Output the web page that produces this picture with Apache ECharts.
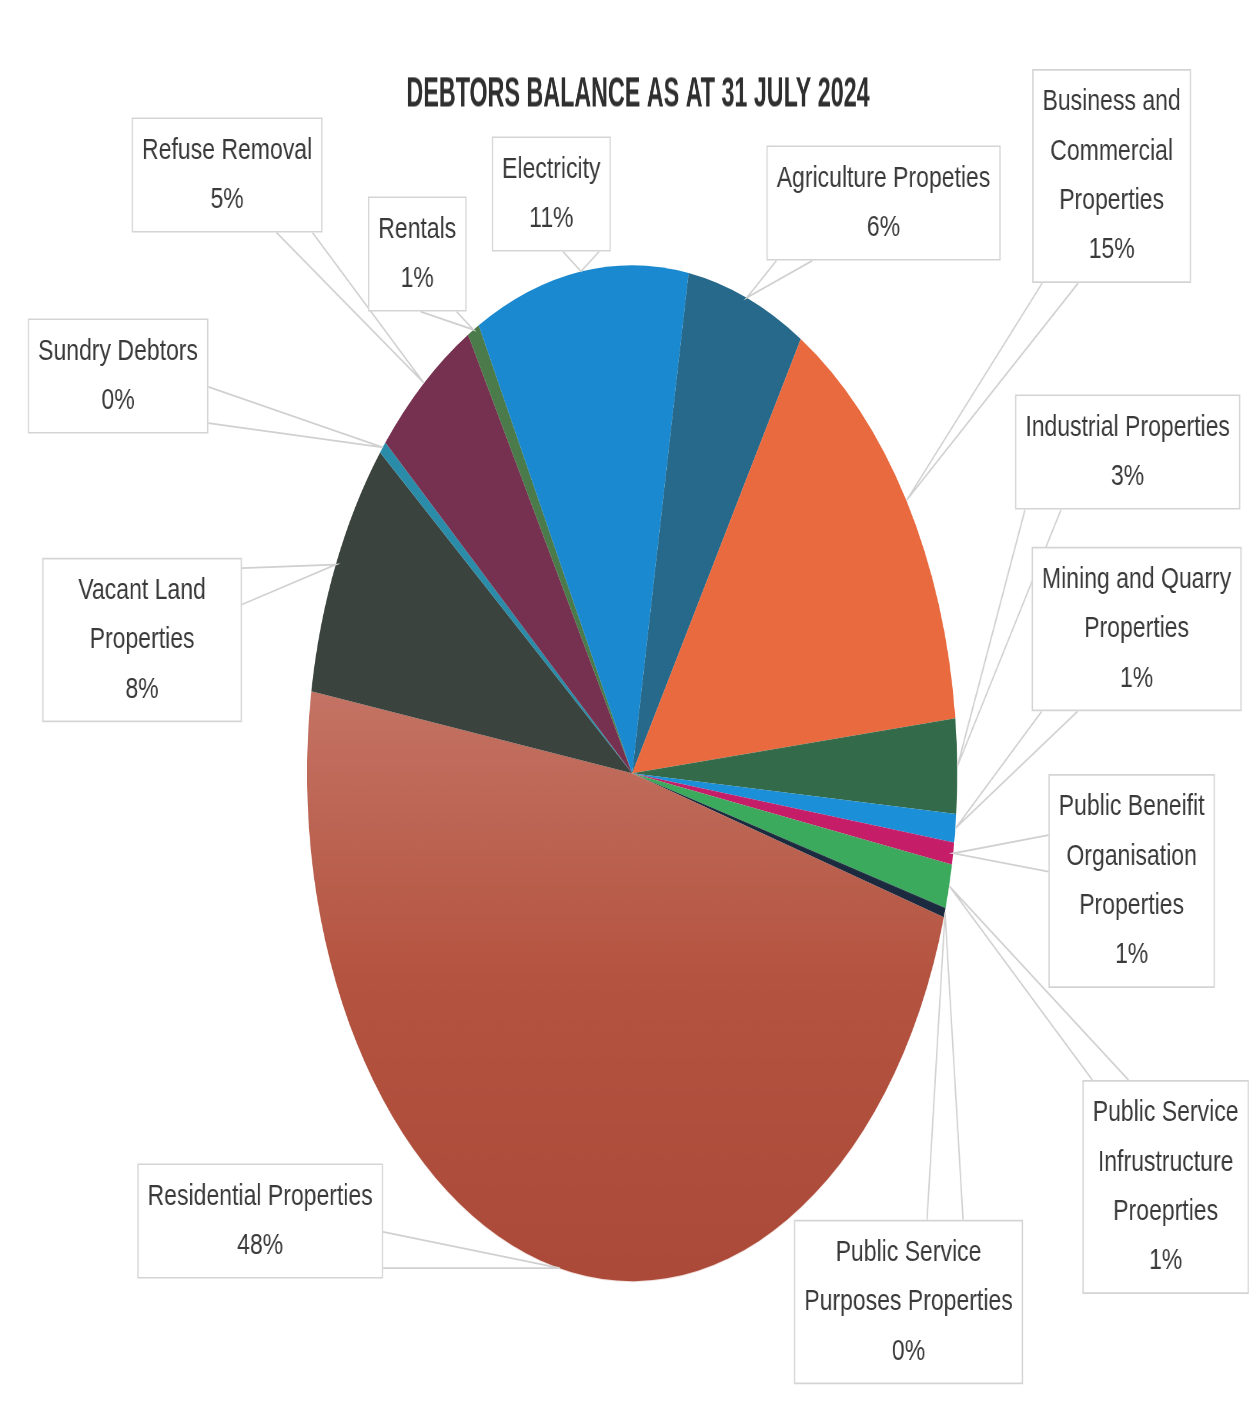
<!DOCTYPE html>
<html>
<head>
<meta charset="utf-8">
<script src="https://cdn.jsdelivr.net/npm/echarts@6/dist/echarts.min.js"></script>
<style>
html,body{margin:0;padding:0;background:#ffffff;}
#wrap{position:relative;width:1253px;height:1404px;overflow:hidden;background:#fff;}
#pie{position:absolute;left:0;top:0;width:1253px;height:1404px;transform-origin:632px 773px;transform:scaleY(1.563);}
#lab{position:absolute;left:0;top:0;width:1253px;height:1080px;transform-origin:0 0;transform:scaleY(1.3);}
#ttl{position:absolute;left:0;top:0;width:1253px;height:76px;transform-origin:0 0;transform:scaleY(1.85);}
</style>
</head>
<body>
<div id="wrap"><div id="pie"></div><div id="lab"></div><div id="ttl"></div></div>
<script>
// ---- data ----
const title = 'DEBTORS BALANCE AS AT 31 JULY 2024';
const categories = [
  'Agriculture Propeties',
  'Business and\nCommercial\nProperties',
  'Industrial Properties',
  'Mining and Quarry\nProperties',
  'Public Beneifit\nOrganisation\nProperties',
  'Public Service\nInfrustructure\nProeprties',
  'Public Service\nPurposes Properties',
  'Residential Properties',
  'Vacant Land\nProperties',
  'Sundry Debtors',
  'Refuse Removal',
  'Rentals',
  'Electricity'
];
const values = [5.9, 14.6, 3.0, 0.9, 0.7, 1.4, 0.3, 48.0, 8.3, 0.4, 5.3, 0.6, 10.6];

// ---- styling / layout (not data) ----
const sliceColors = [
  '#26698a', '#e96a3e', '#336a4a', '#1b8fd8', '#c61d68', '#3caa5c', '#1b2a3e',
  null, '#3a433d', '#2a8ca8', '#763150', '#4b7a4b', '#1a89cf'
];
const residentialGradient = {
  type: 'linear', x: 0, y: 0, x2: 0, y2: 1,
  colorStops: [{offset: 0, color: '#c47364'}, {offset: 0.5, color: '#b4533f'}, {offset: 1, color: '#ab4a39'}]
};
// label box centres in page pixels
const labelCenters = [
  [883, 203], [1111, 176], [1127, 452], [1136, 629], [1131, 881], [1165, 1187],
  [908, 1302], [260, 1221], [142, 640], [118, 376], [227, 175], [417, 254], [551, 194]
];
// fixed text widths for boxes that are wider than their text (null = fit text)
const labelBoxWidths = [null, null, null, null, null, null, null, null, 179, null, null, null, null];
const CX = 632, CY = 773, R = 325, K = 1.563;   // pie centre, horizontal radius, vertical stretch
const S = 1.3;                                  // vertical stretch of the label layer
const TS = 1.85;                                // vertical stretch of the title layer
const FONT = '"Liberation Sans", Arial, sans-serif';

const pieData = categories.map((c, i) => ({
  name: c, value: values[i],
  itemStyle: {color: sliceColors[i] || residentialGradient, borderWidth: 0}
}));

// visible (stretched) pie
const pieChart = echarts.init(document.getElementById('pie'), null, {renderer: 'canvas', devicePixelRatio: K});
pieChart.setOption({
  animation: false,
  backgroundColor: 'transparent',
  series: [{
    type: 'pie', radius: R, center: [CX, CY], startAngle: 80, clockwise: true,
    avoidLabelOverlap: false, silent: true,
    label: {show: false}, labelLine: {show: false},
    data: pieData
  }]
});

// title layer
const ttlChart = echarts.init(document.getElementById('ttl'), null, {renderer: 'canvas', devicePixelRatio: TS});
ttlChart.setOption({
  animation: false,
  backgroundColor: 'transparent',
  graphic: [{
    type: 'text', x: 638, y: 94 / TS,
    style: {
      text: title, x: 0, y: 0, align: 'center', verticalAlign: 'middle',
      font: 'bold 23.3px ' + FONT, fill: '#2f2f2f'
    }
  }]
});

function wedge(box, tip) {
  const bx = box.x + box.w / 2, by = box.y + box.h / 2;
  const nx = (tip[0] - bx) / (box.w / 2), ny = (tip[1] - by) / (box.h / 2);
  const clamp = (v, a, b) => Math.min(Math.max(v, a), b);
  if (Math.abs(nx) > Math.abs(ny)) {
    const half = 14, m = 8;
    const ex = nx > 0 ? box.x + box.w : box.x;
    const c = clamp(tip[1], box.y + half + m, box.y + box.h - half - m);
    return [[ex, c - half], tip, [ex, c + half]];
  } else {
    const half = 18, m = 10;
    const ey = ny > 0 ? box.y + box.h : box.y;
    const c = clamp(tip[0], box.x + half + m, box.x + box.w - half - m);
    return [[c - half, ey], tip, [c + half, ey]];
  }
}

// labels overlay (coordinates in this layer are page y / S)
const labChart = echarts.init(document.getElementById('lab'), null, {renderer: 'canvas', devicePixelRatio: S});
labChart.setOption({
  animation: false,
  backgroundColor: 'transparent',
  series: [{
    type: 'pie', radius: R, center: [CX, CY / S], startAngle: 80, clockwise: true,
    avoidLabelOverlap: false, silent: true,
    itemStyle: {color: 'rgba(0,0,0,0)', borderWidth: 0},
    data: categories.map((c, i) => {
      const item = {name: c, value: values[i]};
      if (labelBoxWidths[i]) item.label = {width: labelBoxWidths[i]};
      return item;
    }),
    label: {
      show: true, position: 'outside',
      formatter: p => p.name + '\n' + Math.round(p.percent) + '%',
      fontFamily: FONT, fontSize: 23, lineHeight: 38, color: '#3a3a3a',
      align: 'center', backgroundColor: '#ffffff',
      borderColor: '#d4d4d4', borderWidth: 1.3, padding: [5, 9]
    },
    labelLine: {
      show: true, length: 10, length2: 10, smooth: false,
      lineStyle: {color: '#d0d0d0', width: 1.4}
    },
    labelLayout: function (p) {
      const i = p.dataIndex;
      const cx = labelCenters[i][0], cy = labelCenters[i][1] / S;
      const w = p.labelRect.width, h = p.labelRect.height;
      const p0 = p.labelLinePoints[0];
      const ang = Math.atan2(p0[1] - CY / S, p0[0] - CX);
      const tip = [CX + R * Math.cos(ang), (CY + R * K * Math.sin(ang)) / S];
      const box = {x: cx - w / 2, y: cy - h / 2, w: w, h: h};
      return {
        x: cx, y: cy, align: 'center', verticalAlign: 'middle',
        labelLinePoints: wedge(box, tip)
      };
    }
  }]
});
</script>
</body>
</html>
